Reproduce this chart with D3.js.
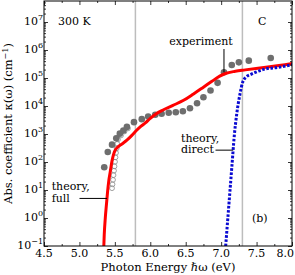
<!DOCTYPE html>
<html>
<head>
<meta charset="utf-8">
<script src="https://cdn.jsdelivr.net/npm/d3@7"></script>
<style>
  body { margin: 0; background: #fff; }
  text { font-family: "DejaVu Serif", serif; fill: #000; }
</style>
</head>
<body>
<div id="chart"></div>
<script>
"use strict";
// photon energy (eV) / absorption coefficient (cm^-1)
var expEnergy = [5.35, 5.40, 5.46, 5.52, 5.57, 5.62, 5.67, 5.77, 5.88, 5.97, 6.07, 6.16, 6.26,
    6.36, 6.46, 6.56, 6.66, 6.75, 6.85, 6.95, 7.04, 7.15, 7.25, 7.39, 7.70];
var expKappa = [65, 227, 416, 700, 1030, 1340, 1790, 2650, 3390, 4230, 4860, 5270, 5730,
    6010, 6530, 8360, 12600, 20600, 35600, 67000, 160000, 292000, 362000, 416000, 519000];
var openEnergy = [5.46, 5.467, 5.474, 5.481, 5.488, 5.495, 5.502, 5.509, 5.516, 5.526, 5.534,
    5.544, 5.587, 5.636, 5.685];
var openKappa = [11.6, 16, 23, 34, 49, 70, 102, 147, 212, 307, 445, 643, 890, 1230, 1585];
var fullEnergy = [5.34, 5.35, 5.365, 5.38, 5.396, 5.415, 5.435, 5.46, 5.48, 5.50, 5.53, 5.575,
    5.62, 5.67, 5.74, 5.80, 5.87, 5.93, 6.00, 6.08, 6.18, 6.32, 6.47, 6.61, 6.75, 6.87, 6.98,
    7.06, 7.20, 7.34, 7.52, 7.71, 7.90, 8.05];
var fullKappa = [0.05, 0.25, 1, 2.8, 8, 22, 45, 110, 180, 250, 320, 400, 480, 600, 890, 1300,
    1900, 2500, 3600, 5200, 7200, 10500, 16000, 27000, 47000, 76000, 117000, 145000, 174000,
    195000, 224000, 257000, 300000, 340000];
var directEnergy = [7.05, 7.10, 7.15, 7.186, 7.22, 7.266, 7.304, 7.36, 7.42, 7.48, 7.62, 7.81, 8.0, 8.05];
var directKappa = [0.035, 1.5, 62, 890, 5200, 27000, 71000, 112000, 135000, 158000, 209000,
    240000, 295000, 310000];
var markerEnergy = [5.79, 7.30];
var xTicks = [4.5, 5.0, 5.5, 6.0, 6.5, 7.0, 7.5, 8.0];
var xTickLabels = ["4.5", "5.0", "5.5", "6.0", "6.5", "7.0", "7.5", "8.0"];
var yExponents = [-1, 0, 1, 2, 3, 4, 5, 6, 7];

var margin = { top: 1, right: 3, bottom: 29, left: 44 };
var width = 295 - margin.left - margin.right;
var height = 275 - margin.top - margin.bottom;

var svg = d3.select("#chart").append("svg")
    .attr("width", 295)
    .attr("height", 275);
var g = svg.append("g")
    .attr("transform", "translate(" + margin.left + "," + margin.top + ")");

var x = d3.scaleLinear().domain([4.5, 8.0]).range([0, width]);
var y = d3.scaleLog().domain([0.1, Math.pow(10, 7.75)]).range([height, 0]);

g.append("clipPath").attr("id", "clip")
    .append("rect").attr("width", width).attr("height", height);

var plot = g.append("g").attr("clip-path", "url(#clip)");

// vertical marker lines
plot.selectAll("line.marker").data(markerEnergy).enter()
    .append("line")
    .attr("class", "marker")
    .attr("x1", function (d) { return x(d); })
    .attr("x2", function (d) { return x(d); })
    .attr("y1", 0).attr("y2", height)
    .attr("stroke", "#bdbdbd")
    .attr("stroke-width", 1.5);

// open circles
plot.selectAll("circle.open").data(d3.range(openEnergy.length)).enter()
    .append("circle")
    .attr("class", "open")
    .attr("cx", function (i) { return x(openEnergy[i]); })
    .attr("cy", function (i) { return y(openKappa[i]); })
    .attr("r", 2.4)
    .attr("fill", "none")
    .attr("stroke", "#8a8a8a")
    .attr("stroke-width", 0.8);

// experiment dots
plot.selectAll("circle.exp").data(d3.range(expEnergy.length)).enter()
    .append("circle")
    .attr("class", "exp")
    .attr("cx", function (i) { return x(expEnergy[i]); })
    .attr("cy", function (i) { return y(expKappa[i]); })
    .attr("r", 3.3)
    .attr("fill", "#6e6e6e");

var line = function (es, ks) {
    return d3.line()
        .x(function (i) { return x(es[i]); })
        .y(function (i) { return y(ks[i]); })
        .curve(d3.curveMonotoneX)(d3.range(es.length));
};

plot.append("path")
    .attr("d", line(fullEnergy, fullKappa))
    .attr("fill", "none")
    .attr("stroke", "#ff0000")
    .attr("stroke-width", 3);

plot.append("path")
    .attr("d", line(directEnergy, directKappa))
    .attr("fill", "none")
    .attr("stroke", "#0a0ad2")
    .attr("stroke-width", 3)
    .attr("stroke-dasharray", "2.6,1.6");

// axes, ticks inward
var xMinor = d3.range(4.75, 8.0, 0.5);
var yMinor = [];
yExponents.forEach(function (e) {
    for (var m = 2; m <= 9; m++) yMinor.push(m * Math.pow(10, e));
});
yMinor = yMinor.filter(function (v) { return v < Math.pow(10, 7.75); });
var yMajor = yExponents.map(function (e) { return Math.pow(10, e); });

var axes = [
    [d3.axisBottom(x).tickValues(xTicks).tickSize(-4), "translate(0," + height + ")"],
    [d3.axisBottom(x).tickValues(xMinor).tickSize(-2), "translate(0," + height + ")"],
    [d3.axisTop(x).tickValues(xTicks).tickSize(-4), "translate(0,0)"],
    [d3.axisTop(x).tickValues(xMinor).tickSize(-2), "translate(0,0)"],
    [d3.axisLeft(y).tickValues(yMajor).tickSize(-4), "translate(0,0)"],
    [d3.axisLeft(y).tickValues(yMinor).tickSize(-2), "translate(0,0)"],
    [d3.axisRight(y).tickValues(yMajor).tickSize(-4), "translate(" + width + ",0)"],
    [d3.axisRight(y).tickValues(yMinor).tickSize(-2), "translate(" + width + ",0)"]
];
axes.forEach(function (a) {
    var ag = g.append("g").attr("transform", a[1])
        .call(a[0].tickSizeOuter(0).tickFormat(""));
    ag.select(".domain").remove();
    ag.selectAll("line").attr("stroke", "#000").attr("stroke-width", 0.8);
});

g.append("rect")
    .attr("width", width).attr("height", height)
    .attr("fill", "none")
    .attr("stroke", "#000")
    .attr("stroke-width", 1);

// tick labels (last one pulled in so it stays inside the page)
g.selectAll("text.xl").data(xTicks).enter()
    .append("text")
    .attr("class", "xl")
    .attr("x", function (d, i) { return i === xTicks.length - 1 ? x(d) + 2 : x(d); })
    .attr("y", height + 11)
    .attr("text-anchor", function (d, i) { return i === xTicks.length - 1 ? "end" : "middle"; })
    .attr("font-size", 11)
    .text(function (d, i) { return xTickLabels[i]; });

var yl = g.selectAll("text.yl").data(yExponents).enter()
    .append("text")
    .attr("class", "yl")
    .attr("x", -1)
    .attr("y", function (e) { return y(Math.pow(10, e)) + 3; })
    .attr("text-anchor", "end")
    .attr("font-size", 11);
yl.append("tspan").text("10");
yl.append("tspan")
    .attr("dy", -5)
    .attr("font-size", 8)
    .text(function (e) { return e < 0 ? "\u2212" + (-e) : String(e); });

// axis titles
svg.append("text")
    .attr("x", margin.left + width / 2)
    .attr("y", 271)
    .attr("text-anchor", "middle")
    .attr("font-size", 11.5)
    .text("Photon Energy \u210F\u03C9 (eV)");

var yt = svg.append("text")
    .attr("transform", "translate(12," + (margin.top + height / 2) + ") rotate(-90)")
    .attr("text-anchor", "middle")
    .attr("font-size", 11.5);
yt.append("tspan").text("Abs. coefficient \u03BA(\u03C9) (cm");
yt.append("tspan").attr("dy", -4).attr("font-size", 8).text("\u22121");
yt.append("tspan").attr("dy", 4).text(")");

// annotations
var note = function (tx, ty, str) {
    g.append("text").attr("x", tx).attr("y", ty).attr("font-size", 11).text(str);
};
note(14, 24, "300 K");
note(214, 24, "C");
note(208, 221, "(b)");
note(137, 140.5, "theory,");
note(137, 151.5, "direct");
note(7.7, 189, "theory,");
note(7.7, 200.5, "full");
g.append("text")
    .attr("x", 157).attr("y", 43.5)
    .attr("text-anchor", "middle")
    .attr("font-size", 11)
    .text("experiment");

var leader = function (x1, y1, x2, y2) {
    g.append("line")
        .attr("x1", x1).attr("y1", y1).attr("x2", x2).attr("y2", y2)
        .attr("stroke", "#000").attr("stroke-width", 1);
};
leader(x(7.04), 48, x(7.04), y(160000));
leader(171.5, y(265), x(7.17), y(265));
leader(35.5, y(5), x(5.39), y(5));
</script>
</body>
</html>
